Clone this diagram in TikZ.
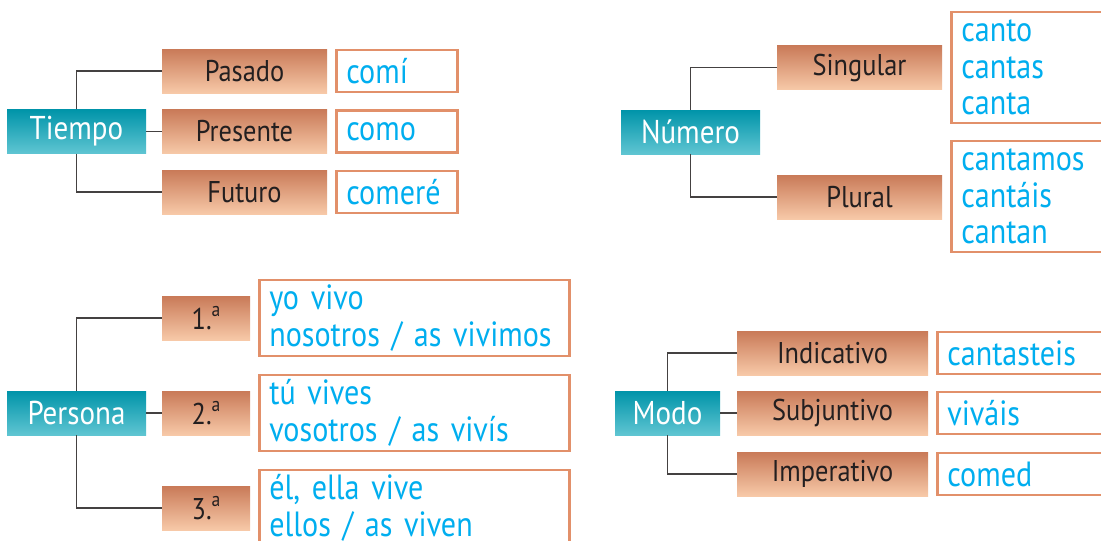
\documentclass[tikz,border=0pt]{standalone}
\usepackage{fontspec}
\setmainfont{PT Sans}[FakeStretch=0.88]
\newfontfamily\formsfam{PT Sans}[FakeStretch=0.86]
\usepackage{xcolor}
\usetikzlibrary{positioning}

\definecolor{tealtop}{HTML}{0094A9}
\definecolor{tealmid}{HTML}{00A8BB}
\definecolor{tealbot}{HTML}{5FC5D2}
\definecolor{toasttop}{HTML}{C97A58}
\definecolor{toastbot}{HTML}{F7C9A8}
\definecolor{framecol}{HTML}{E2906A}
\definecolor{wordcol}{HTML}{00AEEF}
\definecolor{inkcol}{HTML}{231F20}

\newcommand{\ordsup}[1]{\raisebox{13pt}{\fontsize{20}{20}\selectfont #1}}
\newcommand{\formsfont}{\formsfam\fontsize{35}{36.5}\selectfont}

\begin{document}
\begin{tikzpicture}[
        x=1pt, y=-1pt,
        head/.style={top color=tealtop, middle color=tealmid, bottom color=tealbot,
            text=white, inner sep=0pt, minimum height=44pt,
            font=\fontsize{33}{35}\selectfont},
        kind/.style={top color=toasttop, bottom color=toastbot, text=inkcol,
            inner sep=0pt, minimum height=44pt, font=\fontsize{30}{32}\selectfont},
        forms/.style={draw=framecol, line width=2.6pt, fill=white, text=wordcol,
            anchor=west, align=left, inner xsep=10pt, inner ysep=0pt,
            font=\formsfont},
        link/.style={draw=inkcol!85, line width=1.2pt},
    ]
        \useasboundingbox (0,0) rectangle (1101,541);
        \clip (0,0) rectangle (1101,541);

        % Tiempo
        \node[head, minimum width=139pt] (tiempo) at (76.5,131.5) {Tiempo};
        \node[kind, minimum width=165pt] (pasado) at (244.5,71) {Pasado};
        \node[kind, minimum width=165pt] (presente) at (244.5,131.5) {Presente};
        \node[kind, minimum width=165pt] (futuro) at (244.5,192) {Futuro};
        \node[forms, text width=101pt, minimum height=42pt] (comi) at (335,71) {comí};
        \node[forms, text width=101pt, minimum height=42pt] (como) at (335,131.5) {como};
        \node[forms, text width=101pt, minimum height=42pt] (comere) at (335,192) {comeré};

        \draw[link] (tiempo.north) |- (pasado);
        \draw[link] (tiempo) -- (presente);
        \draw[link] (tiempo.south) |- (futuro);

        % Numero
        \node[head, minimum width=139pt] (numero) at (690.5,132) {Número};
        \node[kind, minimum width=165pt] (singular) at (859.5,67.5) {Singular};
        \node[kind, minimum width=165pt] (plural) at (859.5,197) {Plural};
        \node[forms, text width=145pt, minimum height=111pt] (sing) at (950,67.5) {canto\\cantas\\canta};
        \node[forms, text width=145pt, minimum height=111pt] (plur) at (950,196.5) {cantamos\\cantáis\\cantan};

        \draw[link] (numero.north) |- (singular);
        \draw[link] (numero.south) |- (plural);

        % Persona
        \node[head, minimum width=139pt] (persona) at (76.5,413) {Persona};
        \node[kind, minimum width=88pt] (primera) at (206,318) {1.\ordsup{a}};
        \node[kind, minimum width=88pt] (segunda) at (206,413) {2.\ordsup{a}};
        \node[kind, minimum width=88pt] (tercera) at (206,508) {3.\ordsup{a}};
        \node[forms, text width=290pt, minimum height=76pt] (yo) at (258,318) {yo vivo\\nosotros / as vivimos};
        \node[forms, text width=290pt, minimum height=76pt] (tu) at (258,413) {tú vives\\vosotros / as vivís};
        \node[forms, text width=290pt, minimum height=76pt] (el) at (258,508) {él, ella vive\\ellos / as viven};

        \draw[link] (persona.north) |- (primera);
        \draw[link] (persona) -- (segunda);
        \draw[link] (persona.south) |- (tercera);

        % Modo
        \node[head, minimum width=105pt] (modo) at (667.5,413) {Modo};
        \node[kind, minimum width=191pt] (indicativo) at (832.5,353) {Indicativo};
        \node[kind, minimum width=191pt] (subjuntivo) at (832.5,413) {Subjuntivo};
        \node[kind, minimum width=191pt] (imperativo) at (832.5,474) {Imperativo};
        \node[forms, text width=160pt, minimum height=42pt] (ind) at (936,353) {cantasteis};
        \node[forms, text width=160pt, minimum height=42pt] (sub) at (936,413) {viváis};
        \node[forms, text width=160pt, minimum height=42pt] (imp) at (936,474) {comed};

        \draw[link] (modo.north) |- (indicativo);
        \draw[link] (modo) -- (subjuntivo);
        \draw[link] (modo.south) |- (imperativo);
    \end{tikzpicture}
\end{document}
